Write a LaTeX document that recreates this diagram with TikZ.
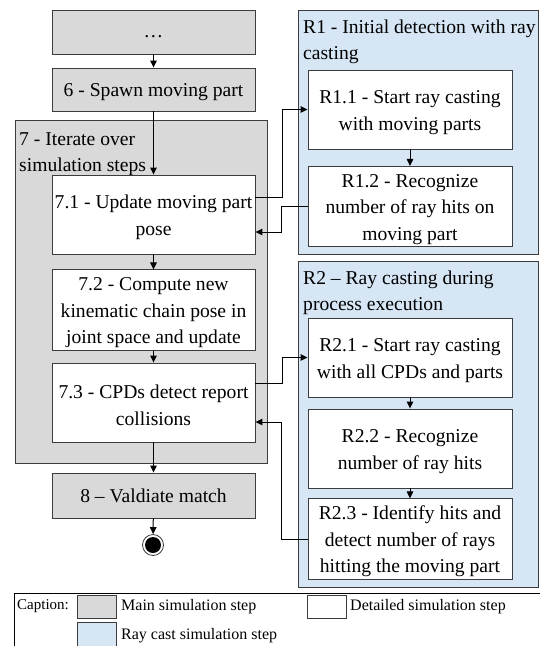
\documentclass[tikz,border=0pt]{standalone}
\usepackage{fontspec}
\setmainfont{Liberation Serif}
\usetikzlibrary{arrows.meta}
\definecolor{mainfill}{RGB}{217,217,217}
\definecolor{rayfill}{RGB}{214,230,245}
\definecolor{edge}{RGB}{60,60,60}
% raises the first text line of a box so that its text block sits a little lower
\newcommand{\topstrut}{\rule{0pt}{19pt}}
\begin{document}
\begin{tikzpicture}[x=1pt,y=-1pt,
  every node/.style={font=\fontsize{19.6}{26.5}\selectfont},
  mainstep/.style={draw=edge, line width=0.9pt, fill=mainfill, minimum width=203pt, align=center, inner sep=2pt},
  detailstep/.style={draw=edge, line width=0.9pt, fill=white, minimum width=203pt, align=center, inner sep=2pt},
  groupbox/.style={draw=edge, line width=0.9pt, inner sep=0},
  grouptitle/.style={anchor=north west, inner sep=0, align=left},
  arr/.style={line width=1pt, -{Triangle[length=7pt,width=6.5pt]}},
  swatch/.style={draw=edge, line width=0.9pt, minimum width=39pt, minimum height=23pt, inner sep=0},
  legendtext/.style={anchor=west, inner sep=0, font=\fontsize{16}{19}\selectfont}]
\useasboundingbox (0,0) rectangle (539,646);

% group frames
\node[groupbox, fill=mainfill, minimum width=252pt, minimum height=343pt] (g7) at (141,291.5) {};
\node[groupbox, fill=rayfill, minimum width=240pt, minimum height=244pt] (gr1) at (418,132) {};
\node[groupbox, fill=rayfill, minimum width=240pt, minimum height=326pt] (gr2) at (418,424) {};

% group titles
\node[grouptitle] (t7) at (19,126.5) {\strut 7 - Iterate over\\simulation steps};
\node[grouptitle] (tr1) at (303,14.5) {\strut R1 - Initial detection with ray\\casting};
\node[grouptitle] (tr2) at (303,265.5) {\strut R2 -- Ray casting during\\process execution};

% main flow
\node[mainstep, minimum height=44pt] (dots) at (153.5,32) {\rule{0pt}{12pt}…};
\node[mainstep, minimum height=43pt] (s6) at (153.5,89.5) {\topstrut 6 - Spawn moving part};
\node[detailstep, minimum height=79pt] (n71) at (153.5,214.5) {\topstrut 7.1 - Update moving part\\pose};
\node[detailstep, minimum height=80pt] (n72) at (153.5,310) {\topstrut 7.2 - Compute new\\kinematic chain pose in\\joint space and update};
\node[detailstep, minimum height=79pt] (n73) at (153.5,402.5) {\topstrut 7.3 - CPDs detect report\\collisions};
\node[mainstep, minimum height=45pt] (s8) at (153.5,495.5) {8 -- Valdiate match};
\node[circle, draw=edge, line width=0.8pt, fill=white, minimum size=21pt, inner sep=0] (end) at (153,545) {};
\node[circle, fill=black, minimum size=16pt, inner sep=0] (endcore) at (end) {};

% ray casting steps
\node[detailstep, minimum width=204pt, minimum height=79pt] (r11) at (410,109.5) {\topstrut R1.1 - Start ray casting\\with moving parts};
\node[detailstep, minimum width=204pt, minimum height=79pt] (r12) at (410,206.5) {\topstrut R1.2 - Recognize\\number of ray hits on\\moving part};
\node[detailstep, minimum width=204pt, minimum height=79pt] (r21) at (410,357.5) {\topstrut R2.1 - Start ray casting\\with all CPDs and parts};
\node[detailstep, minimum width=204pt, minimum height=79pt] (r22) at (410,448.5) {\topstrut R2.2 - Recognize\\number of ray hits};
\node[detailstep, minimum width=204pt, minimum height=80pt] (r23) at (410,539) {\topstrut R2.3 - Identify hits and\\detect number of rays\\hitting the moving part};

% connectors
\draw[arr] (dots) -- (s6);
\draw[arr] (s6) -- (n71);
\draw[arr] (n71) -- (n72);
\draw[arr] (n72) -- (n73);
\draw[arr] (n73) -- (s8);
\draw[arr] (s8) -- (end);
\draw[arr] (r11) -- (r12);
\draw[arr] (r21) -- (r22);
\draw[arr] (r22) -- (r23);
\draw[arr] ([yshift=17.5pt]n71.east) -- ++(27,0) |- (r11.west);
\draw[arr] (r12.west) -- ++(-26,0) |- ([yshift=-17.5pt]n71.east);
\draw[arr] ([yshift=19.5pt]n73.east) -- ++(27,0) |- (r21.west);
\draw[arr] (r23.west) -- ++(-26,0) |- ([yshift=-19.5pt]n73.east);

% legend
\node[draw=black, line width=0.7pt, anchor=north west, minimum width=560pt, minimum height=90pt, inner sep=0] (legend) at (14,593) {};
\node[legendtext, font=\fontsize{15}{18}\selectfont] (lcap) at (17,606) {Caption:};
\node[swatch, fill=mainfill] (sw1) at (96.5,606.5) {};
\node[legendtext] (l1) at (121,607) {Main simulation step};
\node[swatch, fill=white] (sw2) at (327,606.5) {};
\node[legendtext] (l2) at (350,607) {Detailed simulation step};
\node[swatch, fill=rayfill, minimum height=26pt] (sw3) at (96.5,635) {};
\node[legendtext] (l3) at (121,636) {Ray cast simulation step};
\end{tikzpicture}
\end{document}
